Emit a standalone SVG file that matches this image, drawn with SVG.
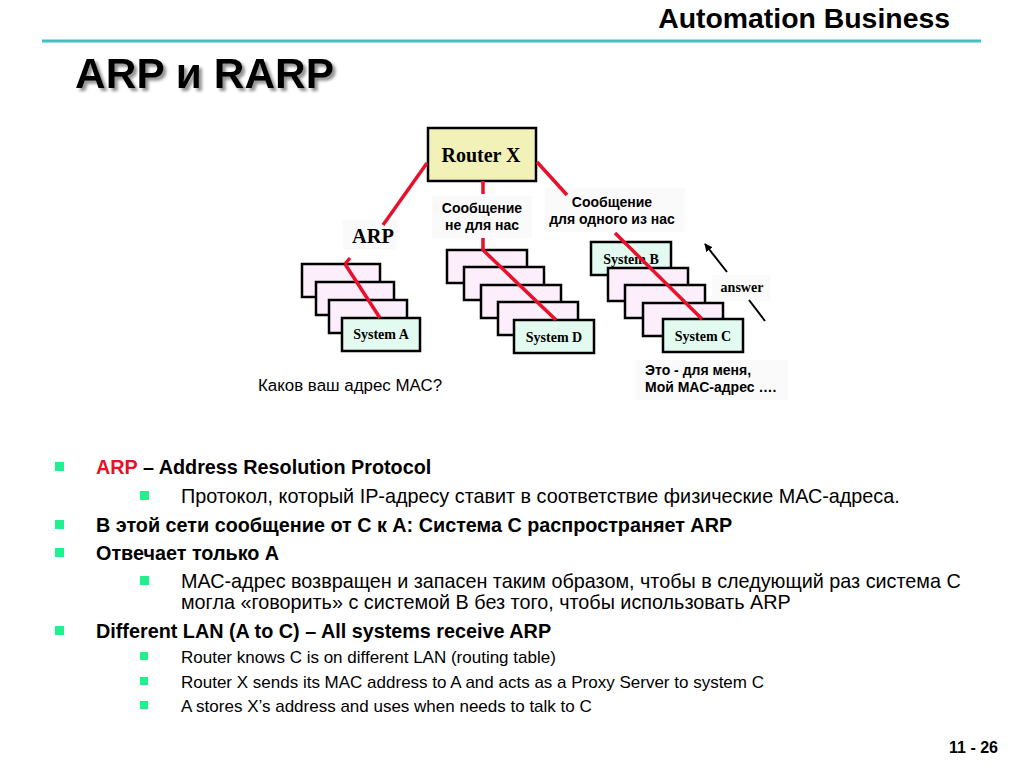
<svg xmlns="http://www.w3.org/2000/svg" width="1024" height="768" viewBox="0 0 1024 768">
<defs>
<style>
.sans{font-family:"Liberation Sans",Arial,sans-serif}
.serif{font-family:"Liberation Serif","Times New Roman",serif;font-weight:bold}
.pink{fill:#FCEEFA;stroke:#000;stroke-width:2.5}
.mint{fill:#E2FAF0;stroke:#000;stroke-width:2.5}
.red{stroke:#E8102A;stroke-width:3.5;fill:none;stroke-linejoin:round}
.lbl{fill:#FAFAFA}
.b1{fill:#22F08E}
.t1{font-family:"Liberation Sans",Arial,sans-serif;font-weight:bold;font-size:19.8px}
.t2{font-family:"Liberation Sans",Arial,sans-serif;font-size:19.8px}
.t3{font-family:"Liberation Sans",Arial,sans-serif;font-size:17px}
.small{font-family:"Liberation Sans",Arial,sans-serif;font-weight:bold;font-size:14px}
.sys{font-family:"Liberation Serif","Times New Roman",serif;font-weight:bold;font-size:14px}
</style>
<filter id="sh" x="-10%" y="-10%" width="130%" height="140%">
<feDropShadow dx="3" dy="3" stdDeviation="1.5" flood-color="#777" flood-opacity="0.8"/>
</filter>
<marker id="ah" viewBox="0 0 10 10" refX="9" refY="5" markerWidth="8" markerHeight="8" orient="auto" markerUnits="userSpaceOnUse">
<path d="M0,0 L10,5 L0,10 z" fill="#000"/>
</marker>
</defs>
<rect width="1024" height="768" fill="#fff"/>

<!-- header -->
<text x="950" y="28" text-anchor="end" class="sans" font-weight="bold" font-size="28.4">Automation Business</text>
<line x1="42" y1="41" x2="981" y2="41" stroke="#40C0C0" stroke-width="3"/>
<text x="75" y="88" class="sans" font-weight="bold" font-size="42.5" filter="url(#sh)">ARP и RARP</text>

<!-- labels -->
<g id="labels">
<rect class="lbl" x="343" y="220" width="54" height="30"/>
<text x="352" y="243" class="serif" font-size="20.4">ARP</text>
<rect class="lbl" x="432" y="196" width="100" height="42"/>
<text x="482" y="213" text-anchor="middle" class="small">Сообщение</text>
<text x="482" y="230" text-anchor="middle" class="small">не для нас</text>
<rect class="lbl" x="545" y="188" width="140" height="44"/>
<text x="612" y="207" text-anchor="middle" class="small">Сообщение</text>
<text x="612" y="224" text-anchor="middle" class="small">для одного из нас</text>
<rect class="lbl" x="712" y="275" width="58" height="26"/>
<text x="742" y="292" text-anchor="middle" class="sys" font-size="15">answer</text>
<rect class="lbl" x="635" y="360" width="153" height="40"/>
<text x="645" y="375" class="small">Это - для меня,</text>
<text x="645" y="392" class="small">Мой МАС-адрес ….</text>
<text x="258" y="391" class="sans" font-size="16.9">Каков ваш адрес МАС?</text>
</g>

<!-- router -->
<g id="router">
<rect x="428" y="128" width="108" height="53" fill="#F2F2B8" stroke="#000" stroke-width="2.5"/>
<text x="481" y="162" text-anchor="middle" class="serif" font-size="20">Router X</text>
</g>

<!-- system A stack -->
<g id="systemA">
<rect class="pink" x="302" y="264" width="78" height="33"/>
<rect class="pink" x="316" y="282" width="78" height="33"/>
<rect class="pink" x="329" y="300" width="78" height="33"/>
<rect class="mint" x="342" y="318" width="78" height="33"/>
<text x="381" y="339" text-anchor="middle" class="sys">System A</text>
</g>

<!-- system D stack -->
<g id="systemD">
<rect class="pink" x="447" y="250" width="80" height="33"/>
<rect class="pink" x="464" y="267" width="80" height="33"/>
<rect class="pink" x="481" y="285" width="80" height="33"/>
<rect class="pink" x="498" y="302" width="80" height="33"/>
<rect class="mint" x="514" y="320" width="80" height="33"/>
<text x="554" y="342" text-anchor="middle" class="sys">System D</text>
</g>

<!-- system B/C stack -->
<g id="systemBC">
<rect class="mint" x="591" y="242" width="80" height="33"/>
<text x="631" y="264" text-anchor="middle" class="sys">System B</text>
<rect class="pink" x="608" y="268" width="80" height="33"/>
<rect class="pink" x="625" y="285" width="80" height="33"/>
<rect class="pink" x="643" y="303" width="80" height="33"/>
<rect class="mint" x="663" y="319" width="80" height="33"/>
<text x="703" y="341" text-anchor="middle" class="sys">System C</text>
</g>

<!-- connectors -->
<g id="connectors">
<polyline class="red" points="427,163 383,225"/>
<polyline class="red" points="345,264 350,258"/>
<polyline class="red" points="345,264 380,318"/>
<line class="red" x1="483" y1="181" x2="483" y2="194"/>
<polyline class="red" points="483,238 483,250 556,320"/>
<line class="red" x1="537" y1="162" x2="567" y2="195"/>
<line class="red" x1="615" y1="233" x2="702" y2="319"/>
<line x1="727" y1="272" x2="705" y2="244" stroke="#000" stroke-width="2" marker-end="url(#ah)"/>
<line x1="749" y1="300" x2="765" y2="321" stroke="#000" stroke-width="2"/>
</g>

<!-- bullets -->
<g id="bullets">
<rect class="b1" x="55" y="462" width="9" height="9"/>
<text x="96" y="474" class="t1"><tspan fill="#E8102A">ARP</tspan> – Address Resolution Protocol</text>
<rect class="b1" x="140" y="491" width="9" height="9"/>
<text x="181" y="503" class="t2">Протокол, который IP-адресу ставит в соответствие физические МАС-адреса.</text>
<rect class="b1" x="55" y="520" width="9" height="9"/>
<text x="96" y="532" class="t1">В этой сети сообщение от С к А: Система С распространяет ARP</text>
<rect class="b1" x="55" y="548" width="9" height="9"/>
<text x="96" y="560" class="t1">Отвечает только А</text>
<rect class="b1" x="140" y="576" width="9" height="9"/>
<text x="181" y="588" class="t2">МАС-адрес возвращен и запасен таким образом, чтобы в следующий раз система С</text>
<text x="181" y="609" class="t2">могла «говорить» с системой В без того, чтобы использовать ARP</text>
<rect class="b1" x="55" y="626" width="9" height="9"/>
<text x="96" y="638" class="t1">Different LAN (A to C) – All systems receive ARP</text>
<rect class="b1" x="140" y="652" width="8" height="8"/>
<text x="181" y="663" class="t3">Router knows C is on different LAN (routing table)</text>
<rect class="b1" x="140" y="677" width="8" height="8"/>
<text x="181" y="688" class="t3">Router X sends its MAC address to A and acts as a Proxy Server to system C</text>
<rect class="b1" x="140" y="701" width="8" height="8"/>
<text x="181" y="712" class="t3">A stores X’s address and uses when needs to talk to C</text>
</g>

<text x="998" y="753" text-anchor="end" class="sans" font-weight="bold" font-size="16">11 - 26</text>
</svg>
